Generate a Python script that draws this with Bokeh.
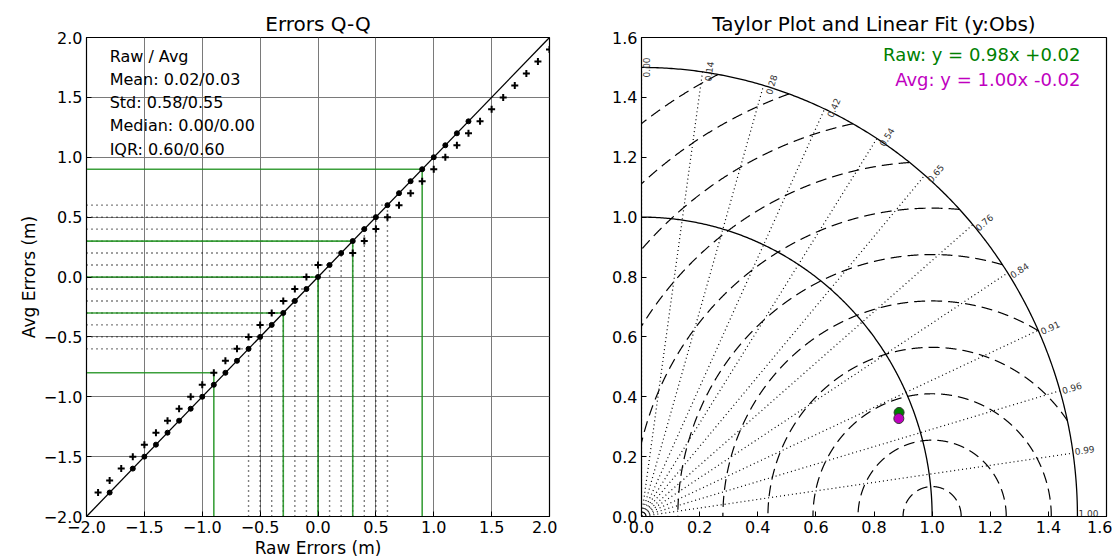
import numpy as np
from bokeh.plotting import figure
from bokeh.layouts import row
from bokeh.models import Range1d, FixedTicker, CustomJSTickFormatter
from bokeh.core.properties import value
from bokeh.embed import file_html
from bokeh.resources import INLINE

FONT = "DejaVu Sans"

# ---------------- Q-Q panel data ----------------
qq_dot_raw = [-1.8, -1.6, -1.5, -1.4, -1.3, -1.2, -1.1, -1.0, -0.9, -0.8, -0.7, -0.6, -0.5,
              -0.4, -0.3, -0.2, -0.1, 0.0, 0.1, 0.2, 0.3, 0.4, 0.5, 0.6, 0.7, 0.8, 0.9,
              1.0, 1.1, 1.2, 1.3]
qq_dot_avg = [-1.8, -1.6, -1.5, -1.4, -1.3, -1.2, -1.1, -1.0, -0.9, -0.8, -0.7, -0.6, -0.5,
              -0.4, -0.3, -0.2, -0.1, 0.0, 0.1, 0.2, 0.3, 0.4, 0.5, 0.6, 0.7, 0.8, 0.9,
              1.0, 1.1, 1.2, 1.3]
qq_cross_raw = [-1.9, -1.8, -1.7, -1.6, -1.5, -1.4, -1.3, -1.2, -1.1, -1.0, -0.9, -0.8, -0.7,
                -0.6, -0.5, -0.4, -0.3, -0.2, -0.1, 0.0, 0.3, 0.4, 0.5, 0.6, 0.7, 0.8, 0.9,
                1.0, 1.1, 1.2, 1.3, 1.4, 1.5, 1.6, 1.7, 1.8, 1.9, 2.0]
qq_cross_avg = [-1.8, -1.7, -1.6, -1.5, -1.4, -1.3, -1.2, -1.1, -1.0, -0.9, -0.8, -0.7, -0.6,
                -0.5, -0.4, -0.3, -0.2, -0.1, 0.0, 0.1, 0.2, 0.3, 0.4, 0.5, 0.6, 0.7, 0.8,
                0.9, 1.0, 1.1, 1.2, 1.3, 1.4, 1.5, 1.6, 1.7, 1.8, 1.9]
# main percentiles (green) and fine percentiles (dotted)
pct_main_raw = [-0.9, -0.3, 0.0, 0.3, 0.9]
pct_main_avg = [-0.8, -0.3, 0.0, 0.3, 0.9]
pct_fine_raw = [-0.6, -0.5, -0.4, -0.3, -0.2, -0.1, 0.0, 0.1, 0.2, 0.3, 0.4, 0.5, 0.6]
pct_fine_avg = [-0.6, -0.5, -0.4, -0.3, -0.2, -0.1, 0.0, 0.1, 0.2, 0.3, 0.4, 0.5, 0.6]
stats_lines = ["Raw / Avg", "Mean: 0.02/0.03", "Std: 0.58/0.55", "Median: 0.00/0.00", "IQR: 0.60/0.60"]
qq_ticks = [-2.0, -1.5, -1.0, -0.5, 0.0, 0.5, 1.0, 1.5, 2.0]

# ---------------- Taylor panel data ----------------
std_max = 1.5
std_ref = 1.0
corr_labels = ["0.00", "0.14", "0.28", "0.42", "0.54", "0.65", "0.76", "0.84", "0.91", "0.96", "0.99", "1.00"]
rms_levels = [0.10, 0.255, 0.41, 0.565, 0.72, 0.875, 1.03, 1.185, 1.34, 1.495, 1.65]
model_std = [0.952, 0.944]
model_corr = [0.931, 0.938]
model_colors = ["#008000", "#bf00bf"]
fit_texts = ["Raw: y = 0.98x +0.02", "Avg: y = 1.00x -0.02"]
taylor_ticks = [0.0, 0.2, 0.4, 0.6, 0.8, 1.0, 1.2, 1.4, 1.6]

FW1, FW2, FH = 463, 465, 479
fmt = CustomJSTickFormatter(code="return tick.toFixed(1).replace('-', '\\u2212');")


def style(p, ticks):
    for ax in (p.xaxis[0], p.yaxis[0]):
        ax.ticker = FixedTicker(ticks=ticks)
        ax.formatter = fmt
        ax.major_label_text_font = FONT
        ax.major_label_text_font_size = "16px"
        ax.major_label_text_color = "black"
        ax.major_tick_in = 5
        ax.major_tick_out = 0
        ax.major_tick_line_color = "black"
        ax.minor_tick_line_color = None
        ax.axis_line_color = "black"
        ax.major_label_standoff = 4
        ax.axis_label_text_font = FONT
        ax.axis_label_text_font_size = "17px"
        ax.axis_label_text_font_style = "normal"
        ax.axis_label_text_color = "black"
        ax.axis_label_standoff = 2
    p.outline_line_color = "black"
    p.outline_line_width = 1.2
    p.title.text_font = FONT
    p.title.text_font_size = "20px"
    p.title.text_font_style = "normal"
    p.title.text_color = "black"
    p.title.align = "center"
    p.title.standoff = 4
    p.background_fill_color = "white"
    p.border_fill_color = "white"


# ================= Left: Q-Q =================
p1 = figure(frame_width=FW1, frame_height=FH, x_range=Range1d(-2, 2), y_range=Range1d(-2, 2),
            title="Errors Q-Q", output_backend="svg", toolbar_location=None,
            min_border_left=86, min_border_right=8, min_border_top=37, min_border_bottom=0)
style(p1, qq_ticks)
p1.xaxis.axis_label = "Raw Errors (m)"
p1.yaxis.axis_label = "Avg Errors (m)"
p1.xgrid.ticker = FixedTicker(ticks=qq_ticks)
p1.ygrid.ticker = FixedTicker(ticks=qq_ticks)
p1.grid.grid_line_color = "#7a7a7a"
p1.grid.grid_line_width = 1
lo = p1.x_range.start

# dotted percentile guides
p1.segment(x0=[lo] * len(pct_fine_avg), y0=pct_fine_avg, x1=pct_fine_raw, y1=pct_fine_avg,
           line_color="black", line_dash="1 4", line_width=1.4)
p1.segment(x0=pct_fine_raw, y0=[lo] * len(pct_fine_raw), x1=pct_fine_raw, y1=pct_fine_avg,
           line_color="black", line_dash="1 4", line_width=1.4)
# green main percentile guides
p1.segment(x0=[lo] * len(pct_main_avg), y0=pct_main_avg, x1=pct_main_raw, y1=pct_main_avg,
           line_color="#1a8f1a", line_width=1.6, line_alpha=0.85)
p1.segment(x0=pct_main_raw, y0=[lo] * len(pct_main_raw), x1=pct_main_raw, y1=pct_main_avg,
           line_color="#1a8f1a", line_width=1.6, line_alpha=0.85)
# 1:1 line
p1.line(x=[qq_ticks[0], qq_ticks[-1]], y=[qq_ticks[0], qq_ticks[-1]], line_color="black", line_width=1.3)
# markers
p1.scatter(x=qq_cross_raw, y=qq_cross_avg, marker="cross", size=7, line_width=2, line_color="black")
p1.scatter(x=qq_dot_raw, y=qq_dot_avg, marker="circle", size=5, fill_color="black", line_color="black")

# stats text block
py1 = FH / 4.0
p1.text(x=[-1.8] * len(stats_lines),
        y=[2.0 - (18.5 + 23.3 * i) / py1 for i in range(len(stats_lines))],
        text=stats_lines, text_font=value(FONT), text_font_size="16px",
        text_align="left", text_baseline="middle", text_color="black")

# ================= Right: Taylor =================
p2 = figure(frame_width=FW2, frame_height=FH, x_range=Range1d(0, 1.6), y_range=Range1d(0, 1.6),
            title="Taylor Plot and Linear Fit (y:Obs)", output_backend="svg", toolbar_location=None,
            min_border_left=84, min_border_right=6, min_border_top=37, min_border_bottom=0)
style(p2, taylor_ticks)
p2.grid.grid_line_color = None
sx = FW2 / 1.6
sy = FH / 1.6

th = np.linspace(0, np.pi / 2, 300)
# std arcs
p2.line(std_max * np.cos(th), std_max * np.sin(th), line_color="black", line_width=1.3)
p2.line(std_ref * np.cos(th), std_ref * np.sin(th), line_color="black", line_width=1.3)

# RMS contours centred on the reference point
xs, ys = [], []
phi = np.linspace(0, np.pi, 3000)
for r in rms_levels:
    x = std_ref + r * np.cos(phi)
    y = r * np.sin(phi)
    m = (x >= 0) & (x ** 2 + y ** 2 <= std_max ** 2 * 1.0005)
    xs.append(list(x[m]))
    ys.append(list(y[m]))
p2.multi_line(xs=xs, ys=ys, line_color="black", line_dash="11 6", line_width=1.2)

# correlation rays
cvals = np.array([float(c) for c in corr_labels])
ang = np.arccos(cvals)
p2.multi_line(xs=[[0, std_max * np.cos(a)] for a in ang], ys=[[0, std_max * np.sin(a)] for a in ang],
              line_color="black", line_dash="1 3", line_width=1.2)

# correlation labels
scr_ang = np.arctan2(np.sin(ang) * sy, np.cos(ang) * sx)
L, H = 20.0, 8.5
W = L * np.abs(np.cos(scr_ang)) + H * np.abs(np.sin(scr_ang))
lx = std_max * np.cos(ang) + (W / 2 + 1) / sx
ly = std_max * np.sin(ang) + 3.0 * np.cos(scr_ang) / sy
p2.text(x=list(lx), y=list(ly), text=corr_labels, angle=list(scr_ang),
        text_font=value(FONT), text_font_size="9px", text_color="#333333",
        text_align="center", text_baseline="middle")

# models
mstd = np.array(model_std)
mcor = np.array(model_corr)
mx = mstd * mcor
my = mstd * np.sqrt(1 - mcor ** 2)
for i in range(len(model_std)):
    p2.scatter(x=[mx[i]], y=[my[i]], marker="circle", size=10, fill_color=model_colors[i],
               line_color="#333333", line_width=1)

# fit texts
p2.text(x=[1.6 - 26 / sx] * 2, y=[1.6 - 17 / sy, 1.6 - 42 / sy], text=fit_texts,
        text_color=model_colors, text_font=value(FONT), text_font_size="18px",
        text_align="right", text_baseline="middle")

layout = row(p1, p2)
open("out.html", "w").write(file_html(layout, INLINE, title="Errors Q-Q and Taylor plot"))
